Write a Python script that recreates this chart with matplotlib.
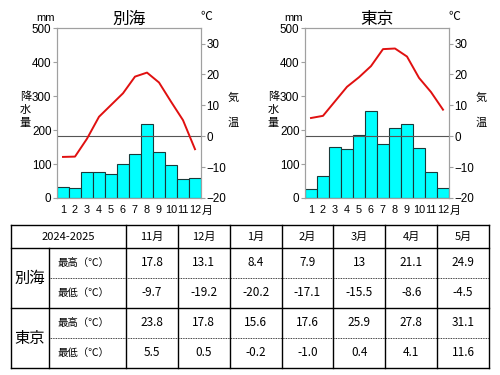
import matplotlib
matplotlib.use("Agg")
import matplotlib.pyplot as plt
from matplotlib.lines import Line2D

plt.rcParams['font.family'] = ['Liberation Sans', 'Noto Sans CJK JP', 'DejaVu Sans']
JP = ['Noto Sans CJK JP', 'DejaVu Sans']

months = list(range(1, 13))
month_labels = [str(m) for m in range(1, 13)]

beppu_rain = [32, 29, 76, 77, 71, 100, 129, 218, 135, 98, 56, 60]
beppu_temp = [-6.7, -6.6, -0.8, 6.3, 10.1, 13.9, 19.3, 20.6, 17.4, 11.2, 5.2, -4.2]
tokyo_rain = [26, 65, 150, 144, 186, 255, 158, 207, 217, 148, 76, 28]
tokyo_temp = [5.9, 6.6, 11.3, 16.0, 19.1, 22.7, 28.2, 28.4, 25.8, 18.9, 14.3, 8.6]

table_header = ['11月', '12月', '1月', '2月', '3月', '4月', '5月']
beppu_high = ['17.8', '13.1', '8.4', '7.9', '13', '21.1', '24.9']
beppu_low = ['-9.7', '-19.2', '-20.2', '-17.1', '-15.5', '-8.6', '-4.5']
tokyo_high = ['23.8', '17.8', '15.6', '17.6', '25.9', '27.8', '31.1']
tokyo_low = ['5.5', '0.5', '-0.2', '-1.0', '0.4', '4.1', '11.6']

fig = plt.figure(figsize=(5, 3.75), dpi=100)

gray = '#a0a0a0'


def climate(left, name, rain, temp):
    ax = fig.add_axes([left, 0.472, 0.288, 0.453])
    ax.bar(months, rain, width=1.0, color='#00ffff', edgecolor='#1a3a3a', linewidth=0.8)
    ax.set_xlim(0.5, 12.5)
    ax.set_ylim(0, 500)
    ax.set_yticks([0, 100, 200, 300, 400, 500])
    ax.set_xticks(months)
    ax.set_xticklabels(month_labels)
    ax.tick_params(axis='x', length=0, pad=5, labelsize=7.8)
    ax.tick_params(axis='y', length=3, color=gray, pad=1, labelsize=8.4)
    for s in ax.spines.values():
        s.set_color(gray)
    ax.annotate('月', xy=(12.5, 0), xycoords=('data', 'axes fraction'),
                xytext=(0.5, -5.5), textcoords='offset points', ha='left', va='top',
                fontsize=7.8, family=JP)
    ax2 = ax.twinx()
    ax2.set_ylim(-20, 35)
    ax2.set_yticks([-20, -10, 0, 10, 20, 30])
    ax2.tick_params(axis='y', length=3, color=gray, pad=1, labelsize=8.4)
    for s in ax2.spines.values():
        s.set_color(gray)
    ax2.axhline(0, color='#555555', linewidth=0.8)
    ax2.plot(months, temp, color='#e01010', linewidth=1.4)
    ax.set_title(name, family=JP, fontsize=12, pad=2)
    ax.text(-0.08, 1.03, 'mm', transform=ax.transAxes, ha='center', va='bottom', fontsize=8)
    ax.text(1.04, 1.03, '℃', transform=ax.transAxes, ha='center', va='bottom', fontsize=8.5, family=JP)
    # vertical axis names, one character at a time
    for ch, yf in zip('降水量', [0.594, 0.518, 0.441]):
        ax.text(-0.22, yf, ch, transform=ax.transAxes, ha='center', va='center',
                fontsize=8, family=JP)
    for ch, yf in zip('気温', [0.588, 0.441]):
        ax.text(1.22, yf, ch, transform=ax.transAxes, ha='center', va='center',
                fontsize=8, family=JP)


climate(0.114, '別海', beppu_rain, beppu_temp)
climate(0.61, '東京', tokyo_rain, tokyo_temp)

# table, drawn in pixel coordinates
tb = fig.add_axes([0, 0, 1, 1])
tb.set_xlim(0, 500)
tb.set_ylim(375, 0)
tb.axis('off')

x0, x_city, x_sub, x_end = 11, 49, 126, 489
col_w = (x_end - x_sub) / len(table_header)
rows_y = [225, 248, 278, 308, 338, 368]


def hline(y, xa, xb, **kw):
    tb.add_line(Line2D([xa, xb], [y, y], color='black', **kw))


def vline(x, ya, yb, **kw):
    tb.add_line(Line2D([x, x], [ya, yb], color='black', **kw))


hline(rows_y[0], x0, x_end, linewidth=1.0)
hline(rows_y[1], x0, x_end, linewidth=1.0)
hline(rows_y[2], x_city, x_end, linewidth=0.6, linestyle=(0, (1, 1)))
hline(rows_y[3], x0, x_end, linewidth=1.0)
hline(rows_y[4], x_city, x_end, linewidth=0.6, linestyle=(0, (1, 1)))
hline(rows_y[5], x0, x_end, linewidth=1.0)
vline(x0, rows_y[0], rows_y[5], linewidth=1.0)
vline(x_city, rows_y[1], rows_y[5], linewidth=1.0)
for i in range(len(table_header) + 1):
    vline(x_sub + i * col_w, rows_y[0], rows_y[5], linewidth=1.0)

hfont = dict(family=JP, fontsize=8, ha='center', va='center')
nfont = dict(family=JP, fontsize=8.5, ha='center', va='center')
tb.text((x0 + x_sub) / 2, (rows_y[0] + rows_y[1]) / 2, '2024-2025', **hfont)
for i, h in enumerate(table_header):
    tb.text(x_sub + (i + 0.5) * col_w, (rows_y[0] + rows_y[1]) / 2, h, **hfont)

city_rows = [('別海', beppu_high, beppu_low), ('東京', tokyo_high, tokyo_low)]
for k, (city, hi, lo) in enumerate(city_rows):
    ya = rows_y[1 + 2 * k]
    ym = rows_y[2 + 2 * k]
    yb = rows_y[3 + 2 * k]
    tb.text((x0 + x_city) / 2, ym, city, family=JP, fontsize=11, ha='center', va='center')
    for y, lab, vals in [((ya + ym) / 2, '最高（℃）', hi), ((ym + yb) / 2, '最低（℃）', lo)]:
        tb.text(x_city + 8, y, lab, family=JP, fontsize=7.5, ha='left', va='center')
        for i, v in enumerate(vals):
            tb.text(x_sub + (i + 0.5) * col_w, y, v, **nfont)

fig.savefig('out.png', dpi=100)
